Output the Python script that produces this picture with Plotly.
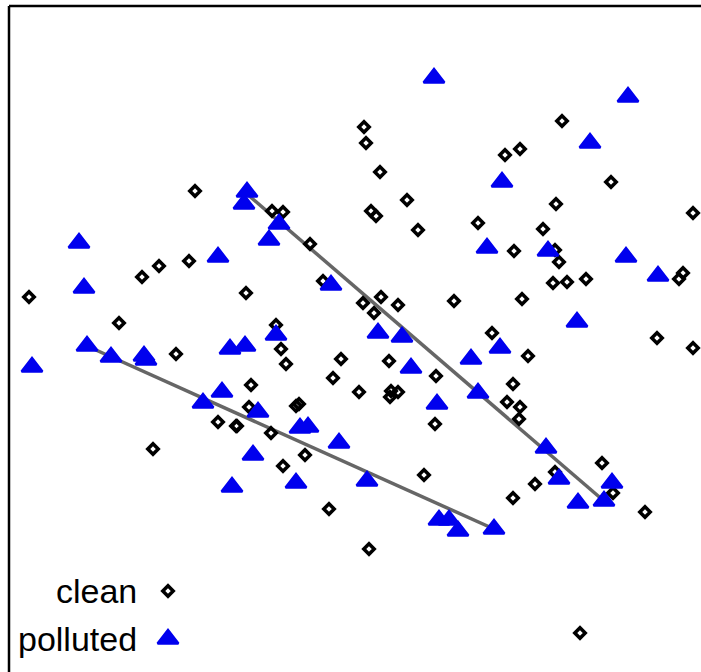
import plotly.graph_objects as go

# Data (units: horizontal / vertical position, vertical grows downward)
clean_x = [29, 119, 142, 159, 189, 195, 176, 153, 218, 236, 246, 272, 283, 310, 276, 281, 286,
           251, 249, 237, 271, 296, 299, 305, 283, 323, 341, 333, 359, 329,
           364, 366, 380, 371, 376, 407, 418, 363, 381, 398, 374, 389, 391, 398, 390,
           436, 435, 424, 454, 369, 478, 505, 520, 562, 611, 556, 543,
           514, 555, 559, 553, 567, 586, 683, 679, 693, 522, 492, 657, 693, 528,
           513, 507, 520, 519, 602, 555, 535, 513, 613, 645, 580]
clean_y = [297, 323, 277, 266, 261, 191, 354, 449, 422, 426, 293, 211, 212, 244, 325, 349, 364,
           385, 407, 426, 433, 406, 404, 455, 466, 281, 359, 378, 392, 509,
           127, 143, 172, 211, 216, 200, 230, 303, 297, 305, 313, 361, 391, 392, 397,
           376, 424, 475, 301, 549, 223, 155, 149, 121, 182, 204, 229,
           251, 250, 262, 283, 282, 279, 273, 279, 213, 299, 333, 338, 348, 356,
           384, 402, 407, 419, 463, 472, 484, 498, 493, 512, 633]

polluted_x = [434, 628, 590, 502, 247, 244, 279, 269, 79, 84, 218, 331, 487, 548, 626, 658, 577,
              87, 111, 144, 146, 32, 230, 245, 276, 378, 402, 411, 437, 471, 500,
              222, 203, 258, 300, 308, 339, 478, 546, 559, 612, 578, 604,
              253, 232, 296, 367, 439, 449, 458, 494]
polluted_y = [78, 97, 143, 182, 192, 204, 224, 240, 243, 288, 257, 285, 248, 251, 257, 276, 322,
              346, 357, 356, 360, 367, 349, 346, 335, 333, 337, 368, 404, 359, 348,
              392, 403, 412, 428, 427, 443, 393, 448, 479, 483, 503, 501,
              455, 487, 483, 481, 520, 520, 531, 529]

line1_x = [87, 494]
line1_y = [346, 529]
line2_x = [247, 604]
line2_y = [194, 501]

legend_labels = ["clean", "polluted"]

W, H = 701, 672
FONT = "Liberation Sans, Arial, sans-serif"

CLEAN_MARKER = dict(symbol="diamond-open", size=8, color="black",
                    line=dict(color="black", width=3.5))
POLL_MARKER = dict(symbol="triangle-up", size=18, color="#0000ee",
                   line=dict(color="#0000ee", width=2.5))

fig = go.Figure()

for lx, ly in ((line1_x, line1_y), (line2_x, line2_y)):
    fig.add_trace(go.Scatter(x=lx, y=ly, mode="lines",
                             line=dict(color="#666666", width=3.5),
                             showlegend=False, hoverinfo="skip"))

fig.add_trace(go.Scatter(x=clean_x, y=clean_y, mode="markers", name="clean",
                         marker=CLEAN_MARKER, showlegend=False))
fig.add_trace(go.Scatter(x=polluted_x, y=polluted_y, mode="markers", name="polluted",
                         marker=POLL_MARKER, showlegend=False))

# Hand-built legend: label text followed by the marker
leg_text_x = 139
leg_marker_x = 168
leg_y = [591, 639]
fig.add_trace(go.Scatter(x=[leg_marker_x], y=[leg_y[0]], mode="markers",
                         marker=CLEAN_MARKER, showlegend=False, hoverinfo="skip"))
fig.add_trace(go.Scatter(x=[leg_marker_x], y=[leg_y[1]], mode="markers",
                         marker=POLL_MARKER, showlegend=False, hoverinfo="skip"))
for lab, yy in zip(legend_labels, leg_y):
    fig.add_annotation(x=leg_text_x, y=yy, text=lab, showarrow=False,
                       xanchor="right", yanchor="middle",
                       font=dict(family=FONT, size=34, color="black"))

# Frame: only the top and left edges fall inside the picture
FRAME = dict(color="black", width=2.5)
fig.add_shape(type="line", xref="x", yref="y", x0=9, y0=6, x1=W + 30, y1=6, line=FRAME, layer="above")
fig.add_shape(type="line", xref="x", yref="y", x0=9, y0=6, x1=9, y1=H + 30, line=FRAME, layer="above")

fig.update_layout(
    width=W, height=H,
    margin=dict(l=0, r=0, t=0, b=0),
    paper_bgcolor="white", plot_bgcolor="white",
    xaxis=dict(range=[0, W], visible=False, fixedrange=True),
    yaxis=dict(range=[H, 0], visible=False, fixedrange=True),
    font=dict(family=FONT),
    hovermode=False,
)

# Remove the page's default body margin so the figure sits at the window's top-left corner
fig.write_html("out.html",
               config={"displayModeBar": False, "staticPlot": True},
               post_script="document.body.style.margin='0px';document.body.style.overflow='hidden';")
